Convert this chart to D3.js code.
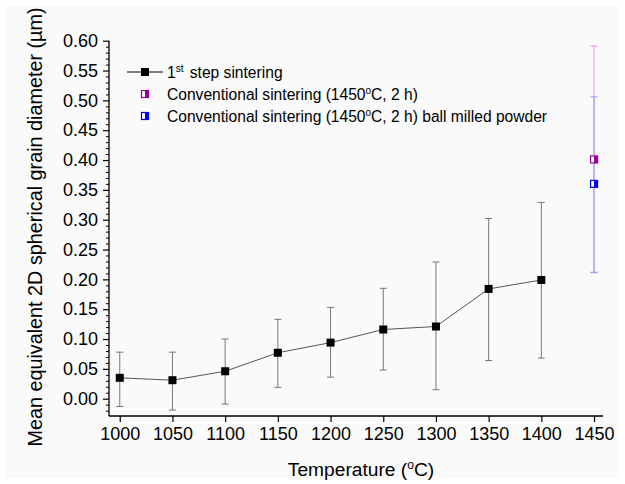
<!DOCTYPE html>
<html>
<head>
<meta charset="utf-8">
<script src="https://cdn.jsdelivr.net/npm/d3@7"></script>
<style>
  html, body { margin: 0; padding: 0; background: #ffffff; }
  svg { display: block; font-family: Arial, "Liberation Sans", sans-serif; }
</style>
</head>
<body>
<svg id="chart" width="625" height="484"></svg>
<script>
// First-step sintering: mean grain diameter with error bar limits
const temps = [1000, 1050, 1100, 1150, 1200, 1250, 1300, 1350, 1400];
const means = [0.035, 0.031, 0.046, 0.077, 0.094, 0.116, 0.121, 0.184, 0.199];
const lows  = [-0.013, -0.019, -0.009, 0.019, 0.036, 0.048, 0.015, 0.064, 0.068];
const highs = [0.078, 0.078, 0.100, 0.133, 0.153, 0.185, 0.229, 0.302, 0.329];

// Conventional sintering references at 1450 °C
const convTemp = 1450;
const convNames = ["Conventional sintering (1450\u00B0C, 2 h)",
                   "Conventional sintering (1450\u00B0C, 2 h) ball milled powder"];
const convMeans = [0.401, 0.360];
const convLows  = [0.211, 0.212];
const convHighs = [0.591, 0.506];
const convColors = ["#990099", "#0000ff"];
const convBarColors = ["#dd99dd", "#9999ff"];

const xTicks = [1000, 1050, 1100, 1150, 1200, 1250, 1300, 1350, 1400, 1450];
const yTicks = [0.00, 0.05, 0.10, 0.15, 0.20, 0.25, 0.30, 0.35, 0.40, 0.45, 0.50, 0.55, 0.60];

const svg = d3.select("#chart");
svg.append("rect").attr("x", 6).attr("y", 6).attr("width", 613).attr("height", 472)
  .attr("fill", "#fafafa");

const plotL = 109, plotR = 603, plotT = 40.7, plotB = 416;
const x = d3.scaleLinear().domain([989.8, 1458.5]).range([plotL, plotR]);
const y = d3.scaleLinear().domain([-0.029, 0.60]).range([plotB, plotT]);
const tickFont = 18;

// Y axis: major ticks with labels, minor ticks every 0.01
const yMinor = d3.range(-2, 61).map(i => i / 100).filter(v => Math.round(v * 100) % 5 !== 0);
svg.append("g").attr("transform", `translate(${plotL},0)`)
  .call(d3.axisLeft(y).tickValues(yMinor).tickSize(3).tickFormat(""))
  .call(g => g.select(".domain").remove())
  .call(g => g.selectAll("line").attr("stroke", "#000").attr("stroke-width", 1));
const yAxis = svg.append("g").attr("transform", `translate(${plotL},0)`)
  .call(d3.axisLeft(y).tickValues(yTicks).tickSize(6).tickPadding(5)
        .tickFormat(d3.format(".2f")));
yAxis.select(".domain").attr("d", `M0,${plotT}V${plotB}`).attr("stroke", "#000").attr("stroke-width", 1.3);
yAxis.selectAll("line").attr("stroke", "#000").attr("stroke-width", 1.2);
yAxis.selectAll("text").attr("font-size", tickFont).attr("fill", "#000")
  .attr("font-family", "Arial, 'Liberation Sans', sans-serif");

// X axis
const xAxis = svg.append("g").attr("transform", `translate(0,${plotB})`)
  .call(d3.axisBottom(x).tickValues(xTicks).tickSize(6).tickPadding(5).tickFormat(d3.format("d")));
xAxis.select(".domain").attr("d", `M${plotL},0H${plotR}`).attr("stroke", "#000").attr("stroke-width", 1.3);
xAxis.selectAll("line").attr("stroke", "#000").attr("stroke-width", 1.2);
xAxis.selectAll("text").attr("font-size", tickFont).attr("fill", "#000")
  .attr("font-family", "Arial, 'Liberation Sans', sans-serif");

// Axis titles
svg.append("text")
  .attr("x", 361).attr("y", 476).attr("text-anchor", "middle")
  .attr("font-size", 19.2).attr("fill", "#000")
  .call(t => {
    t.append("tspan").text("Temperature (");
    t.append("tspan").attr("dy", -7).attr("font-size", 12).text("o");
    t.append("tspan").attr("dy", 7).text("C)");
  });
svg.append("text")
  .attr("transform", "translate(42,227) rotate(-90)")
  .attr("text-anchor", "middle").attr("font-size", 19.8).attr("fill", "#000")
  .text("Mean equivalent 2D spherical grain diameter (\u00B5m)");

const capW = 3.5;
function errorBar(g, xv, lo, hi, color) {
  const px = x(xv);
  g.append("line").attr("x1", px).attr("x2", px).attr("y1", y(lo)).attr("y2", y(hi))
    .attr("stroke", color).attr("stroke-width", 1);
  [lo, hi].forEach(v => g.append("line")
    .attr("x1", px - capW).attr("x2", px + capW).attr("y1", y(v)).attr("y2", y(v))
    .attr("stroke", color).attr("stroke-width", 1));
}

// Conventional sintering error bars and half-filled markers
const conv = svg.append("g");
convMeans.forEach((m, i) => errorBar(conv, convTemp, convLows[i], convHighs[i], convBarColors[i]));
function halfSquare(g, cx, cy, color, s) {
  g.append("rect").attr("x", cx - s / 2).attr("y", cy - s / 2).attr("width", s).attr("height", s)
    .attr("fill", "#fff").attr("stroke", color).attr("stroke-width", 1.2);
  g.append("rect").attr("x", cx).attr("y", cy - s / 2).attr("width", s / 2).attr("height", s)
    .attr("fill", color);
}
convMeans.forEach((m, i) => halfSquare(conv, x(convTemp), y(m), convColors[i], 7));

// First-step sintering series
const series = svg.append("g");
temps.forEach((t, i) => errorBar(series, t, lows[i], highs[i], "#777"));
series.append("path")
  .datum(temps.map((t, i) => [t, means[i]]))
  .attr("d", d3.line().x(d => x(d[0])).y(d => y(d[1])))
  .attr("fill", "none").attr("stroke", "#555").attr("stroke-width", 1);
series.selectAll("rect.pt").data(temps).enter().append("rect")
  .attr("class", "pt")
  .attr("x", (d) => x(d) - 4).attr("y", (d, i) => y(means[i]) - 4)
  .attr("width", 8).attr("height", 8).attr("fill", "#000");

// Legend
const legend = svg.append("g").attr("font-size", 15.6).attr("fill", "#000");
legend.append("line").attr("x1", 127).attr("x2", 163).attr("y1", 72).attr("y2", 72)
  .attr("stroke", "#000").attr("stroke-width", 1);
legend.append("rect").attr("x", 141).attr("y", 68).attr("width", 8).attr("height", 8).attr("fill", "#000");
legend.append("text").attr("x", 167).attr("y", 78)
  .call(t => {
    t.append("tspan").text("1");
    t.append("tspan").attr("dy", -6).attr("font-size", 10).text("st");
    t.append("tspan").attr("dy", 6).attr("dx", 2).text(" step sintering");
  });
convNames.forEach((name, i) => {
  const ly = 94 + i * 22;
  halfSquare(legend, 145, ly, convColors[i], 7);
  const parts = name.split("\u00B0");
  legend.append("text").attr("x", 167).attr("y", ly + 6)
    .call(t => {
      t.append("tspan").text(parts[0]);
      t.append("tspan").attr("dy", -6).attr("font-size", 10).text("o");
      t.append("tspan").attr("dy", 6).text(parts[1]);
    });
});
</script>
</body>
</html>
